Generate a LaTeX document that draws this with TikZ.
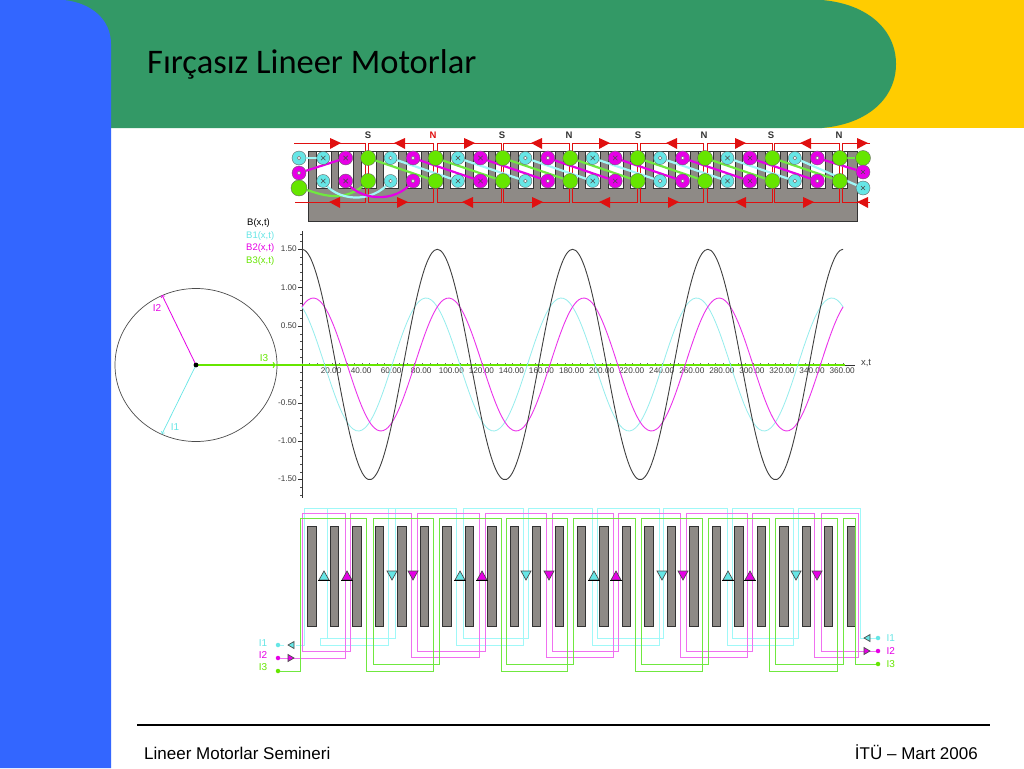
\documentclass[tikz,border=0pt]{standalone}
\usepackage{fontspec}
\setmainfont{Liberation Sans}
\newfontfamily\titlefont{Carlito}
\usetikzlibrary{arrows,calc,positioning}
\definecolor{bandblue}{HTML}{3366FF}
\definecolor{bandgreen}{HTML}{339966}
\definecolor{bandyellow}{HTML}{FFCC00}
\definecolor{ironcolor}{HTML}{8E8A86}
\definecolor{phaseA}{HTML}{66E6E6}
\definecolor{phaseB}{HTML}{E600E6}
\definecolor{phaseC}{HTML}{66E600}
\definecolor{wireA}{HTML}{A0F8F8}
\definecolor{wireB}{HTML}{F070F0}
\definecolor{wireC}{HTML}{70E840}
\definecolor{polered}{HTML}{E01010}
\tikzset{
  iron/.style={draw=black!80,fill=ironcolor,line width=0.7pt},
  cond/.style={circle,draw=black!60,line width=0.4pt,minimum size=13pt,inner sep=0pt},
  pole/.style={draw=polered,line width=0.7pt},
  poletri/.style={fill=polered,draw=none},
  polelbl/.style={font=\bfseries\fontsize{9.5}{9.5}\selectfont,inner sep=0pt},
  ticklbl/.style={font=\fontsize{8.2}{8.2}\selectfont,text=black!75,inner sep=0pt},
  leglbl/.style={font=\fontsize{9.5}{9.5}\selectfont,inner sep=0pt,anchor=west},
  phasorlbl/.style={font=\fontsize{10}{10}\selectfont,inner sep=0pt},
  termdot/.style={circle,inner sep=0pt,minimum size=4.5pt},
  flagtri/.style={draw=black!70,line width=0.7pt},
  endturn/.style={line width=2.2pt},
  winding/.style={line width=0.85pt}
}
\begin{document}
\begin{tikzpicture}[x=1pt,y=-1pt]
\useasboundingbox (0,0) rectangle (1024,768);
\fill[white] (0,0) rectangle (1024,768);
% header bands
\fill[bandyellow] (780,0) rectangle (1024,128);
\fill[bandgreen] (60,0) -- (822,0) .. controls (868,4) and (896,30) .. (896,64)
  .. controls (896,98) and (868,124) .. (822,128) -- (60,128) -- cycle;
\fill[bandblue] (0,0) -- (64,0) .. controls (92,3) and (111,20) .. (111,44) -- (111,768) -- (0,768) -- cycle;
\node[anchor=base west,inner sep=0pt,font=\titlefont\fontsize{34.5}{34.5}\selectfont] (title) at (147,73) {Fırçasız Lineer Motorlar};
% footer
\draw[line width=1.5pt] (137,725) -- (990,725);
\node[anchor=base west,inner sep=0pt,font=\fontsize{17}{17}\selectfont] (footl) at (144,759) {Lineer Motorlar Semineri};
\node[anchor=base east,inner sep=0pt,font=\fontsize{17}{17}\selectfont] (footr) at (978,759) {İTÜ – Mart 2006};
% upper motor: iron
\fill[iron] (308,151) -- (857,151) -- (857,221) -- (308,221) -- cycle;
\foreach \i in {0,...,23}{
  \fill[white,draw=black!80,line width=0.6pt] ({316+22.46*\i},151) rectangle ({331+22.46*\i},188);
}
% upper motor: pole frames
\draw[pole] (294,143) -- (365,143) -- (365,202) -- (295,202);
\foreach \a/\b in {368/433,437/501,503/569,572/637,640/703,707/772,774/839}{
  \draw[pole] (\a,202) -- (\a,143) -- (\b,143) -- (\b,202) -- cycle;
}
\draw[pole] (870,143) -- (842,143) -- (842,202) -- (870,202);
\foreach \x/\d in {335/1,400/-1,469/1,537/-1,604/1,672/-1,740/1,806/-1,862/1}{
  \fill[poletri] ({\x-5*\d},138) -- ({\x+6*\d},143) -- ({\x-5*\d},149) -- cycle;
}
\foreach \x/\d in {335/-1,402/1,468/-1,537/1,605/-1,673/1,741/-1,808/1,863/-1}{
  \fill[poletri] ({\x-5*\d},197) -- ({\x+6*\d},202) -- ({\x-5*\d},208) -- cycle;
}
\foreach \x/\t/\c in {368/S/black!80,433/N/polered,502/S/black!80,569/N/black!80,638/S/black!80,704/N/black!80,771/S/black!80,839/N/black!80}{
  \node[polelbl,text=\c] at (\x,135) {\t};
}
% upper motor: conductors, named by slot
\foreach \i in {0,...,23}{
  \coordinate (up\i) at ({323.2+22.46*\i},158);
  \coordinate (lo\i) at ({323.2+22.46*\i},181);
}
\node[cond,fill=phaseA,minimum size=14pt] (la) at (299,158) {};
\node[cond,fill=phaseB,minimum size=14pt] (lb) at (299,173) {};
\node[cond,fill=phaseC,minimum size=16pt] (lc) at (299,188) {};
\node[cond,fill=phaseC,minimum size=15pt] (rc) at (863,158) {};
\node[cond,fill=phaseB,minimum size=14pt] (rb) at (863,172) {};
\node[cond,fill=phaseA,minimum size=14pt] (ra) at (863,188) {};
% end turns
\draw[wireA,endturn] (la) -- (up0);
\draw[phaseB,endturn] (lb) -- (up1);
\draw[wireC,endturn] (lc) .. controls (318,193) and (345,206) .. (lo2);
\draw[wireA,endturn] (lo0) .. controls (335,201) and (372,205) .. (lo3);
\draw[phaseB,endturn] (lo1) .. controls (358,200) and (395,205) .. (lo4);
\foreach \i in {2,...,20}{
  \pgfmathtruncatemacro{\j}{\i+3}
  \pgfmathtruncatemacro{\k}{mod(\i,3)}
  \ifnum\k=0
    \draw[wireA,endturn] (up\i) -- (lo\j);
  \else\ifnum\k=1
    \draw[phaseB,endturn] (up\i) -- (lo\j);
  \else
    \draw[wireC,endturn] (up\i) -- (lo\j);
  \fi\fi
}
\draw[wireA,endturn] (up21) -- (ra);
\draw[phaseB,endturn] (up22) -- (rb);
\draw[wireC,endturn] (up23) -- (rc);
\foreach \i in {0,...,23}{
  \pgfmathtruncatemacro{\k}{mod(\i,3)}
  \pgfmathtruncatemacro{\m}{mod(\i,6)}
  \ifnum\k=0
    \node[cond,fill=phaseA] at (up\i) {}; \node[cond,fill=phaseA] at (lo\i) {};
  \else\ifnum\k=1
    \node[cond,fill=phaseB,minimum size=14pt] at (up\i) {}; \node[cond,fill=phaseB,minimum size=14pt] at (lo\i) {};
  \else
    \node[cond,fill=phaseC,minimum size=15pt] at (up\i) {}; \node[cond,fill=phaseC,minimum size=15pt] at (lo\i) {};
  \fi\fi
  \ifnum\k<2
    \ifnum\m<2
      \foreach \p in {up\i,lo\i}{
        \draw[black!70,line width=0.6pt] ($(\p)+(-2.2,-2.2)$) -- ($(\p)+(2.2,2.2)$) ($(\p)+(-2.2,2.2)$) -- ($(\p)+(2.2,-2.2)$);
      }
    \else
      \foreach \p in {up\i,lo\i}{ \fill[white,draw=black!55,line width=0.5pt] (\p) circle (1.8pt); }
    \fi
  \fi
}
\fill[white,draw=black!55,line width=0.5pt] (la) circle (1.8pt) (lb) circle (1.8pt);
\draw[black!70,line width=0.6pt] (861,170) -- (865,174) (861,174) -- (865,170) (861,186) -- (865,190) (861,190) -- (865,186);
% phasor circle
\draw[black!70,line width=0.7pt] (196,365) ellipse [x radius=81,y radius=76.5];
\coordinate (hub) at (196,365);
\coordinate (tipA) at (162,434);
\coordinate (tipB) at (162,295);
\coordinate (tipC) at (276,365);
\draw[phaseA,line width=0.7pt,->] (hub) -- (tipA);
\draw[phaseB,line width=0.8pt,->] (hub) -- (tipB);
\draw[phaseC,line width=1.2pt,->] (hub) -- (tipC);
\fill[black] (hub) circle (2.4pt);
\node[phasorlbl,text=phaseA] (lblA) at (175,427) {I1};
\node[phasorlbl,text=phaseB] (lblB) at (157,308) {I2};
\node[phasorlbl,text=phaseC] (lblC) at (264,358) {I3};
% chart axes
\draw[black!80,line width=0.7pt] (302,231) -- (302,498);
\draw[black!80,line width=0.7pt] (278,365) -- (855,365);
\foreach \i in {-17,...,17}{
  \draw[black!70,line width=0.5pt] (300,{364.5-7.68*\i}) -- (302,{364.5-7.68*\i});
}
\foreach \i in {-15,-10,...,15}{
  \draw[black!80,line width=0.7pt] (298,{364.5-7.68*\i}) -- (302,{364.5-7.68*\i});
}
\foreach \i in {0,...,72}{
  \draw[black!60,line width=0.5pt] ({302+7.515*\i},363) -- ({302+7.515*\i},365);
}
\foreach \v/\y in {1.50/249,1.00/288,0.50/326,-0.50/403,-1.00/441,-1.50/479}{
  \node[ticklbl,anchor=east] at (297,\y) {\v};
}
\foreach \t in {20,40,...,360}{
  \node[ticklbl] at ({302+1.503*\t-1},371) {\t.00};
}
\node[ticklbl,font=\fontsize{9.5}{9.5}\selectfont] (xlbl) at (866,363) {x,t};
% chart curves
\draw[phaseC,line width=1.2pt] (276,365) -- (845,365);
\draw[phaseA!70!white,line width=0.8pt] plot[domain=0:360,samples=181,smooth] ({302+1.503*\x},{364.5-76.8*0.866*cos(4*\x+30)});
\draw[phaseB!80!white,line width=0.9pt] plot[domain=0:360,samples=181,smooth] ({302+1.503*\x},{364.5-76.8*0.866*cos(4*\x-30)});
\draw[black!75,line width=0.9pt] plot[domain=0:360,samples=181,smooth] ({302+1.503*\x},{364.5-76.8*1.5*cos(4*\x)});
% legend
\node[leglbl,text=black] (legB) at (247,223) {B(x,t)};
\node[leglbl,text=phaseA] (legA) at (246,236) {B1(x,t)};
\node[leglbl,text=phaseB] (legM) at (246,248.5) {B2(x,t)};
\node[leglbl,text=phaseC] (legC) at (246,261) {B3(x,t)};
% lower motor: bars
\foreach \i in {0,...,24}{
  \fill[iron] ({307.8+22.46*\i},526) rectangle ({316.2+22.46*\i},626);
}
% lower motor: terminals
\node[termdot,fill=phaseA] (tla) at (278,645) {};
\node[termdot,fill=phaseB] (tlb) at (278,658) {};
\node[termdot,fill=phaseC] (tlc) at (278,671) {};
\node[termdot,fill=phaseA] (tra) at (878,638) {};
\node[termdot,fill=phaseB] (trb) at (878,651) {};
\node[termdot,fill=phaseC] (trc) at (878,664) {};
\node[phasorlbl,text=phaseA] (tlalbl) at (263,643) {I1};
\node[phasorlbl,text=phaseB] (tlblbl) at (263,655) {I2};
\node[phasorlbl,text=phaseC] (tlclbl) at (263,667) {I3};
\node[phasorlbl,text=phaseA,right=6pt of tra] (tralbl) {I1};
\node[phasorlbl,text=phaseB,right=6pt of trb] (trblbl) {I2};
\node[phasorlbl,text=phaseC,right=6pt of trc] (trclbl) {I3};
% lower motor: windings
\draw[wireA,winding] (296,645) -- (304,645) |- (388,508) |- (320,645) |- (327,638) |- (395,508) -- (395,638) -- (327,638)
  (395,508) -| (456,645) -| (523,508) -| (463,638) -| (528,508) -| (592,645) -| (659,508) -| (597,638) -| (663,508)
  -| (727,645) -| (793,508) -| (732,638) -| (798,508) -| (860,638) -- (tra);
\draw[wireB,winding] (tlb) -- (345,658) |- (302,513) |- (350,651) |- (411,513) |- (479,657) |- (417,513) |- (485,651) |- (546,513)
  |- (613,657) |- (552,513) |- (618,651) |- (680,513) |- (747,657) |- (686,513) |- (752,651) |- (814,513) |- (858,657) |- (821,513) |- (trb);
\draw[wireC,winding] (tlc) -| (300,518) -| (366,671) -| (433,518) -| (373,664) -| (439,518) -| (501,671) -| (567,518) -| (506,664)
  -| (573,518) -| (635,671) -| (702,518) -| (641,664) -| (708,518) -| (769,671) -| (837,518) -| (775,664) -| (843,518) -| (855,664) -- (trc);
% lower motor: current flags
\foreach \x/\c in {324/phaseA,347/phaseB,460/phaseA,482/phaseB,594/phaseA,616/phaseB,728/phaseA,750/phaseB}{
  \draw[flagtri,fill=\c] (\x,571) -- ({\x+5},580) -- ({\x-5},580) -- cycle;
  \draw[black,line width=0.8pt] ({\x-6},580) -- ({\x+6},580);
}
\foreach \x/\c in {392/phaseA,413/phaseB,526/phaseA,549/phaseB,662/phaseA,683/phaseB,796/phaseA,817/phaseB}{
  \draw[flagtri,fill=\c] ({\x-5},571) -- ({\x+5},571) -- (\x,580) -- cycle;
}
\draw[wireA,winding] (tla) -- (284,645);
\draw[flagtri,fill=phaseA] (288,645) -- (294,641.5) -- (294,648.5) -- cycle;
\draw[flagtri,fill=phaseB] (294,658) -- (288,654.5) -- (288,661.5) -- cycle;
\draw[flagtri,fill=phaseA] (864,638) -- (870,634.5) -- (870,641.5) -- cycle;
\draw[flagtri,fill=phaseB] (870,651) -- (864,647.5) -- (864,654.5) -- cycle;
\end{tikzpicture}
\end{document}
